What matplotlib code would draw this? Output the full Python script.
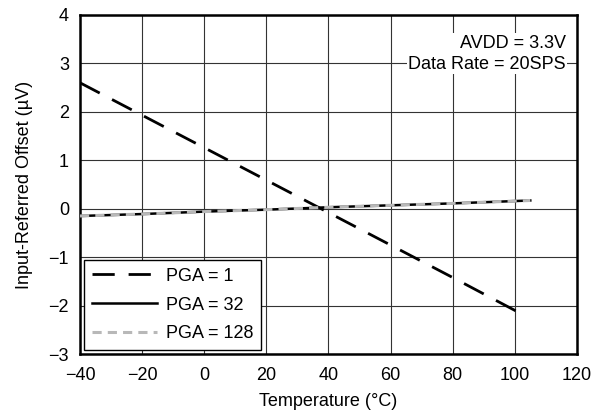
import matplotlib
matplotlib.use("Agg")
import matplotlib.pyplot as plt

plt.rcParams['font.family'] = ['Liberation Sans', 'DejaVu Sans']

temp_pga1 = [-40, -20, 0, 20, 40, 60, 80, 103]
offset_pga1 = [2.60, 1.93, 1.26, 0.59, -0.08, -0.75, -1.42, -2.20]
temp_pga32 = [-40, -20, 0, 20, 40, 60, 80, 105]
offset_pga32 = [-0.15, -0.11, -0.06, -0.02, 0.03, 0.07, 0.11, 0.17]
temp_pga128 = [-40, -20, 0, 20, 40, 60, 80, 105]
offset_pga128 = [-0.15, -0.11, -0.06, -0.02, 0.03, 0.07, 0.11, 0.17]

xticks = [-40, -20, 0, 20, 40, 60, 80, 100, 120]
xticklabels = ['\u221240', '\u221220', '0', '20', '40', '60', '80', '100', '120']
yticks = [-3, -2, -1, 0, 1, 2, 3, 4]
yticklabels = ['\u22123', '\u22122', '\u22121', '0', '1', '2', '3', '4']

fig = plt.figure(figsize=(5.95, 4.16), dpi=100)
ax = fig.add_axes([0.1345, 0.149, 0.835, 0.815])

ax.plot(temp_pga1, offset_pga1, color='black', lw=2.0, dashes=(8, 5), label='PGA = 1', zorder=3)
ax.plot(temp_pga32, offset_pga32, color='black', lw=1.8, label='PGA = 32', zorder=3)
ax.plot(temp_pga128, offset_pga128, color='#b8b8b8', lw=2.2, dashes=(3, 2), label='PGA = 128', zorder=4)

ax.set_xlim(-40, 120)
ax.set_ylim(-3, 4)
ax.set_xticks(xticks)
ax.set_xticklabels(xticklabels)
ax.set_yticks(yticks)
ax.set_yticklabels(yticklabels)
ax.tick_params(length=0, labelsize=13)
ax.tick_params(axis='x', pad=9)
ax.tick_params(axis='y', pad=8)
ax.grid(True, color='#333333', lw=0.8)
ax.set_axisbelow(True)
for s in ax.spines.values():
    s.set_linewidth(1.8)
    s.set_color('black')

ax.set_xlabel('Temperature (\u00b0C)', fontsize=13, labelpad=7)
ax.set_ylabel('Input-Referred Offset (\u00b5V)', fontsize=13, labelpad=11)

ax.text(0.978, 0.942, 'AVDD = 3.3V\nData Rate = 20SPS', transform=ax.transAxes,
        ha='right', va='top', fontsize=13, linespacing=1.3,
        bbox=dict(facecolor='white', edgecolor='none', pad=1), zorder=5)

leg = ax.legend(loc='lower left', fontsize=13, frameon=True, fancybox=False,
                edgecolor='black', framealpha=1, handlelength=3.6, handletextpad=0.5,
                borderaxespad=0.2, borderpad=0.45, labelspacing=0.65)
leg.get_frame().set_linewidth(1.0)

fig.savefig('out.png', dpi=100)
